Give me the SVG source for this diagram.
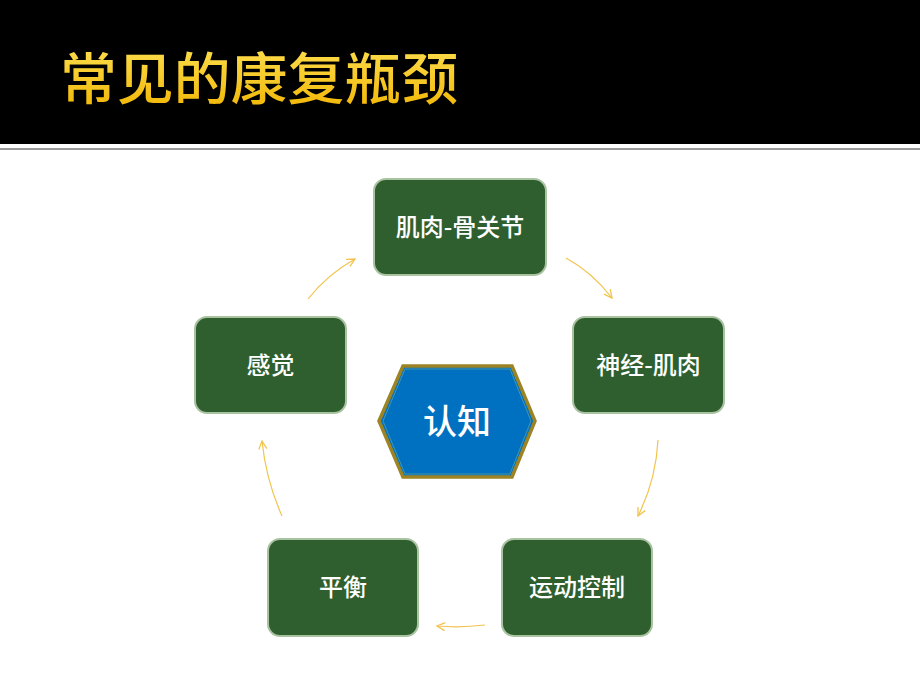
<svg xmlns="http://www.w3.org/2000/svg" width="920" height="690" viewBox="0 0 920 690">
<defs>
<linearGradient id="tg" x1="0" y1="0" x2="0" y2="1">
<stop offset="0" stop-color="#ffe45a"/>
<stop offset="1" stop-color="#f0b400"/>
</linearGradient>
<marker id="ah" viewBox="0 0 10 10" refX="9" refY="5" markerWidth="10" markerHeight="10" markerUnits="userSpaceOnUse" orient="auto">
<path d="M1,1 L9,5 L1,9" fill="none" stroke="#f2c44e" stroke-width="1.3"/>
</marker>
<style>
.box{fill:#2f5f2f;stroke:#a9c2a0;stroke-width:2}
.lbl{font-family:"Noto Sans CJK SC",sans-serif;font-weight:500;font-size:24px;fill:#ffffff;text-anchor:middle}
.con{fill:none;stroke:#f2c44e;stroke-width:1.2;marker-end:url(#ah)}
</style>
</defs>
<rect x="0" y="0" width="920" height="690" fill="#ffffff"/>
<rect x="0" y="0" width="920" height="144" fill="#000000"/>
<rect x="0" y="148" width="920" height="2" fill="#9a9a9a"/>
<text x="60" y="99" font-family="'Noto Sans CJK SC',sans-serif" font-weight="500" font-size="56" fill="url(#tg)" textLength="398" lengthAdjust="spacingAndGlyphs">常见的康复瓶颈</text>

<g id="connectors">
<path class="con" d="M566,258 Q592,272 612,298"/>
<path class="con" d="M658,440 Q656,480 638,516"/>
<path class="con" d="M485,625 Q460,628 437,626"/>
<path class="con" d="M282,516 Q266,480 262,441"/>
<path class="con" d="M308,299 Q328,274 355,259"/>
</g>

<g id="n1">
<rect class="box" x="374" y="179" width="172" height="96" rx="12"/>
<text class="lbl" x="460" y="236">肌肉-骨关节</text>
</g>
<g id="n2">
<rect class="box" x="573" y="317" width="151" height="96" rx="12"/>
<text class="lbl" x="648.5" y="374">神经-肌肉</text>
</g>
<g id="n3">
<rect class="box" x="502" y="539" width="150" height="97" rx="12"/>
<text class="lbl" x="577" y="596">运动控制</text>
</g>
<g id="n4">
<rect class="box" x="268" y="539" width="150" height="97" rx="12"/>
<text class="lbl" x="343" y="596">平衡</text>
</g>
<g id="n5">
<rect class="box" x="195" y="317" width="151" height="96" rx="12"/>
<text class="lbl" x="270.5" y="374">感觉</text>
</g>
<g id="center">
<polygon points="379,421 403,366 512,366 535,421 512,477 403,477" fill="#0070c0" stroke="#9c8424" stroke-width="3.5"/>
<polygon points="383,421 405,369 510,369 531,421 510,474 405,474" fill="none" stroke="#5aa0a0" stroke-width="0.8"/>
<text x="457" y="434" font-family="'Noto Sans CJK SC',sans-serif" font-weight="500" font-size="34" fill="#ffffff" text-anchor="middle">认知</text>
</g>
</svg>
